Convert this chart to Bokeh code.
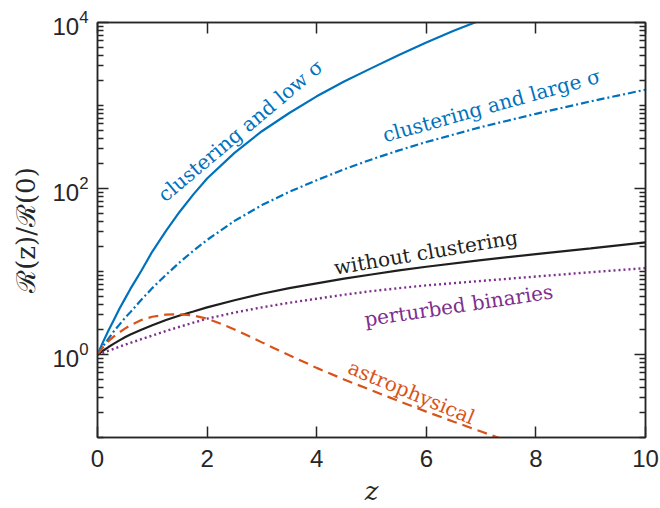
from bokeh.plotting import figure
from bokeh.models import (LinearAxis, LogAxis, FixedTicker, ColumnDataSource, CustomLabelingPolicy)
from bokeh.core.properties import value
from bokeh.embed import file_html
from bokeh.resources import INLINE

# ---- data ----
z_low = [0, 0.1, 0.2, 0.3, 0.4, 0.5, 0.6, 0.7, 0.8, 1.0, 1.25, 1.5, 1.75, 2, 2.5, 3,
         3.5, 4, 4.5, 5, 5.5, 6, 6.5, 7]
r_low = [1, 1.41, 1.95, 2.63, 3.55, 4.68, 6.17, 7.94, 10.2, 17.4, 30.9, 52.5, 85, 132, 269,
         490, 813, 1290, 1950, 2820, 4070, 5750, 7940, 10700]

z_large = [0, 0.1, 0.2, 0.3, 0.4, 0.5, 0.6, 0.8, 1.0, 1.25, 1.5, 1.75, 2, 2.5, 3, 3.5, 4,
           4.5, 5, 5.5, 6, 7, 8, 9, 10]
r_large = [1, 1.26, 1.55, 1.91, 2.29, 2.75, 3.24, 4.57, 6.31, 9.12, 12.9, 17.8, 24.0, 40.7,
           63.1, 91.2, 126, 170, 224, 288, 363, 550, 794, 1122, 1549]

z_noclu = [0, 0.1, 0.2, 0.3, 0.4, 0.5, 0.6, 0.8, 1, 1.25, 1.5, 1.75, 2, 2.5, 3, 3.5, 4, 4.5,
           5, 5.5, 6, 7, 8, 9, 10]
r_noclu = [1, 1.11, 1.23, 1.35, 1.48, 1.61, 1.74, 1.99, 2.25, 2.6, 2.95, 3.3, 3.7, 4.5,
           5.4, 6.3, 7.2, 8.2, 9.2, 10.3, 11.4, 13.7, 16.2, 19.0, 22.4]

z_pert = [0, 0.1, 0.2, 0.3, 0.4, 0.5, 0.6, 0.8, 1, 1.25, 1.5, 1.75, 2, 2.5, 3, 3.5, 4, 4.5,
          5, 5.5, 6, 7, 8, 9, 10]
r_pert = [1, 1.05, 1.11, 1.17, 1.24, 1.31, 1.38, 1.53, 1.69, 1.92, 2.16, 2.42, 2.7, 3.2, 3.7,
          4.2, 4.7, 5.25, 5.8, 6.3, 6.8, 7.7, 8.7, 9.8, 11.0]

z_astro = [0, 0.1, 0.2, 0.3, 0.4, 0.5, 0.6, 0.8, 1, 1.25, 1.5, 1.75, 2, 2.25, 2.5, 2.75, 3,
           3.5, 4, 4.5, 5, 5.5, 6, 6.5, 7, 7.5]
r_astro = [1, 1.22, 1.45, 1.65, 1.85, 2.05, 2.25, 2.6, 2.85, 3.02, 3.05, 2.95, 2.7, 2.35, 2.0,
           1.68, 1.4, 0.98, 0.69, 0.50, 0.37, 0.275, 0.205, 0.155, 0.118, 0.09]

x_ticks = [0, 2, 4, 6, 8, 10]
y_major = [1, 100, 10000]
y_minor = [m * 10.0 ** e for e in range(-1, 4) for m in range(1, 10) if not (m == 1 and e % 2 == 0)]

labels = ["clustering and low \u03c3", "clustering and large \u03c3", "without clustering",
          "perturbed binaries", "astrophysical"]
label_x = [2.61, 7.19, 5.99, 6.59, 5.73]
label_y = [500, 1000, 17, 3.9, 0.35]
label_angle = [40, 15.5, 9.6, 8.5, -22.6]

BLUE = "#0072BD"
ORANGE = "#D95319"
PURPLE = "#7E2F8E"
BLACK = "#1f1f1f"
AX = "#262626"
label_color = [BLUE, BLUE, BLACK, PURPLE, ORANGE]

p = figure(frame_width=548, frame_height=415, width=660, height=508,
           y_axis_type="log", x_range=(0, 10), y_range=(0.1, 1e4),
           output_backend="svg", toolbar_location=None,
           min_border_left=97, min_border_right=15, min_border_top=22, min_border_bottom=71)
p.grid.visible = False
p.outline_line_color = AX
p.outline_line_width = 1.5
p.background_fill_color = "white"

p.line(z_low, r_low, line_color=BLUE, line_width=2.2)
p.line(z_large, r_large, line_color=BLUE, line_width=2.2, line_dash="8 3 2 3")
p.line(z_noclu, r_noclu, line_color=BLACK, line_width=2.2)
p.line(z_pert, r_pert, line_color=PURPLE, line_width=2.4, line_dash="2 3")
p.line(z_astro, r_astro, line_color=ORANGE, line_width=2.2, line_dash="10 6")

src = ColumnDataSource(dict(x=label_x, y=label_y, t=labels, a=label_angle, c=label_color))
p.text(x="x", y="y", text="t", angle="a", angle_units="deg", text_color="c", source=src,
       text_font=value("DejaVu Serif"), text_font_size="20px",
       text_align="center", text_baseline="middle")

def style_axis(ax, labels_on):
    ax.axis_line_color = AX
    ax.axis_line_width = 1.5
    ax.major_tick_line_color = AX
    ax.minor_tick_line_color = AX
    ax.major_tick_line_width = 1.5
    ax.minor_tick_line_width = 1.5
    ax.major_tick_in = 11
    ax.major_tick_out = 0
    ax.minor_tick_in = 6
    ax.minor_tick_out = 0
    ax.major_label_text_color = AX
    ax.major_label_text_font = "Liberation Sans"
    if labels_on:
        ax.major_label_text_font_size = "24px"
    else:
        ax.major_label_text_font_size = "2px"
        ax.major_label_standoff = 0
        ax.major_label_policy = CustomLabelingPolicy(code="return []")

# bottom x axis
xa = p.xaxis[0]
xa.ticker = FixedTicker(ticks=x_ticks)
style_axis(xa, True)
xa.major_label_standoff = 12
xa.axis_label = "z"
xa.axis_label_text_font = "DejaVu Serif"
xa.axis_label_text_font_style = "italic"
xa.axis_label_text_font_size = "26px"
xa.axis_label_text_color = AX
xa.axis_label_standoff = 6

# left y axis
ya = p.yaxis[0]
ya.ticker = FixedTicker(ticks=y_major, minor_ticks=y_minor)
style_axis(ya, True)
ya.major_label_standoff = 9
ya.axis_label = "\u211b(z)/\u211b(0)"
ya.axis_label_text_font = "DejaVu Serif"
ya.axis_label_text_font_style = "normal"
ya.axis_label_text_font_size = "26px"
ya.axis_label_text_color = AX
ya.axis_label_standoff = 8

# top and right axes (box ticks)
top = LinearAxis(ticker=FixedTicker(ticks=x_ticks))
style_axis(top, False)
p.add_layout(top, "above")
right = LogAxis(ticker=FixedTicker(ticks=y_major, minor_ticks=y_minor))
style_axis(right, False)
p.add_layout(right, "right")

open("out.html", "w").write(file_html(p, INLINE))
